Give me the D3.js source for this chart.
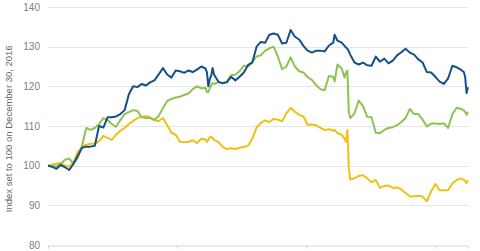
<!DOCTYPE html>
<html>
<head>
<meta charset="utf-8">
<script src="https://cdn.jsdelivr.net/npm/d3@7"></script>
<style>
  body { margin: 0; background: #fff; }
  svg { display: block; font-family: "Liberation Sans", Arial, sans-serif; }
</style>
</head>
<body>
<div class="chart"></div>
<script>
// days after Dec 30, 2016
var dayOffsets = [0, 3, 6, 9, 12, 15, 18, 21, 24, 27, 30, 33, 36, 39, 42, 45, 48, 51, 54, 57,
  60, 63, 66, 69, 72, 75, 78, 81, 84, 87, 90, 93, 96, 99, 102, 105, 108, 111, 112, 113,
  114, 115, 116, 117, 120, 123, 126, 129, 132, 135, 138, 141, 144, 147, 150, 153, 156, 159, 162, 165,
  168, 171, 174, 177, 180, 183, 186, 189, 192, 195, 198, 201, 202, 204, 207, 209, 210, 211, 212, 213,
  216, 219, 222, 225, 228, 231, 234, 237, 240, 243, 246, 249, 252, 255, 258, 261, 264, 267, 270, 273,
  276, 279, 282, 285, 288, 291, 293, 294, 295, 296];

var blueValues = [100, 99.7, 99.2, 100.2, 99.6, 98.9, 100.5, 102.5, 104.5, 104.8, 104.8, 105, 110, 109.6, 112.2, 112.2, 112.4, 113, 114, 118,
  120, 119.8, 120.6, 120.2, 121, 121.5, 123, 124.6, 123, 122.2, 124, 123.8, 123.4, 124, 123.6, 124.2, 125, 124.5, 123.5, 120,
  121.8, 122.7, 124.6, 123, 121.2, 120.8, 121, 122.4, 121.5, 122.4, 123.5, 125.4, 126, 130, 131.2, 131, 133, 133.3, 133, 130.8,
  131, 134.2, 132.5, 131.8, 130.2, 129, 128.5, 129, 129, 128.8, 130.3, 131, 133, 131.5, 131, 130.2, 129.8, 129.5, 128.8, 128,
  126, 125.5, 126, 125.3, 125.2, 127.5, 126.2, 127, 125.8, 126.5, 127.8, 128.6, 129.5, 128.5, 128, 126.8, 126, 123.6, 123.5, 122.4,
  121.2, 120.6, 122, 125.2, 124.8, 124.2, 123.6, 122.4, 118.3, 119.8];

var greenValues = [100, 100, 99.8, 100.5, 101.5, 101.8, 100.5, 102, 105, 109.5, 109, 109.5, 110.5, 112, 111.5, 110.5, 109.8, 111.5, 113, 113.5,
  114, 113.8, 112.2, 112, 112, 111.5, 112.5, 114.5, 116.3, 116.8, 117.2, 117.4, 117.8, 118.2, 119.3, 120, 119.5, 119.6, 118.6, 118.5,
  119.5, 120.3, 120.8, 120.6, 121, 120.8, 121.2, 122.8, 122.9, 123.8, 125.2, 125, 126.2, 127.5, 127.8, 129, 129.6, 130, 127.5, 124.3,
  125, 127.3, 125, 123.8, 123.5, 122.3, 121.6, 120.3, 119.3, 119, 122.6, 122.4, 121.2, 125.5, 124.5, 122.2, 123.5, 124, 113.5, 112,
  113.2, 116.4, 115, 112.3, 112.2, 108.3, 108.2, 109, 109.5, 109.7, 110.2, 111, 112, 114.3, 113, 113, 111.6, 109.9, 110.6, 110.6,
  110.5, 110.7, 109.5, 113, 114.6, 114.3, 114, 113.5, 112.8, 113.6];

var yellowValues = [100, 100.3, 100.5, 100.7, 100, 99.8, 100.8, 103.5, 104.8, 105.3, 105.5, 105.5, 106.2, 107.5, 107, 106.5, 107.8, 108.8, 109.5, 110.5,
  111.3, 112, 112.3, 112.5, 112.2, 111.5, 111.2, 112, 110.2, 108.3, 107.8, 106, 105.9, 106, 106.4, 105.7, 106.8, 106.6, 106, 106.5,
  107.2, 107.3, 107, 106.5, 106, 104.8, 104.2, 104.4, 104.2, 104.5, 104.7, 105, 106.8, 109.6, 110.8, 111.4, 111, 111.8, 111.6, 111.2,
  113.2, 114.6, 113.6, 112.8, 112.4, 110.3, 110.4, 110.2, 109.5, 109, 109.2, 108.8, 109, 108.2, 107.8, 106.8, 106, 109, 99.5, 96.5,
  96.8, 97.4, 97.6, 96.8, 95.8, 96.4, 94.4, 94.9, 95, 94.4, 94.5, 94, 93.1, 92.2, 92.3, 92.4, 92.2, 91, 93.5, 95.4,
  93.8, 93.8, 93.8, 95.5, 96.4, 96.8, 96.4, 96.2, 95.6, 96.3];

var yTicks = [80, 90, 100, 110, 120, 130, 140];
var quarterTicks = ["2016-12-30", "2017-03-31", "2017-06-30", "2017-09-29"];
var yTitle = "Index set to 100 on December 30, 2016";

var width = 480, height = 251;
var margin = {left: 48, right: 12, top: 7, bottom: 6};

var parse = d3.timeParse("%Y-%m-%d");
var start = parse("2016-12-30");
var dates = dayOffsets.map(function(d) { return d3.timeDay.offset(start, d); });

var x = d3.scaleTime()
  .domain([start, d3.timeDay.offset(start, 296)])
  .range([margin.left, width - margin.right]);
var y = d3.scaleLinear()
  .domain([80, 140])
  .range([height - margin.bottom, margin.top]);

var svg = d3.select(".chart").append("svg")
  .attr("width", width)
  .attr("height", height);

// grid lines
svg.append("g")
  .selectAll("line")
  .data(yTicks.slice(1))
  .enter().append("line")
  .attr("x1", margin.left)
  .attr("x2", width - margin.right)
  .attr("y1", function(d) { return Math.round(y(d)) + 0.5; })
  .attr("y2", function(d) { return Math.round(y(d)) + 0.5; })
  .attr("stroke", "#e6e6e6");

// y labels
svg.append("g")
  .selectAll("text")
  .data(yTicks)
  .enter().append("text")
  .attr("x", 40)
  .attr("y", function(d) { return y(d); })
  .attr("dy", "0.35em")
  .attr("text-anchor", "end")
  .attr("font-size", 10)
  .attr("fill", "#808080")
  .text(function(d) { return d; });

// bottom axis
var xAxis = d3.axisBottom(x)
  .tickValues(quarterTicks.map(parse))
  .tickSize(3)
  .tickFormat("");
var gx = svg.append("g")
  .attr("transform", "translate(0," + (Math.round(y(80)) + 0.5) + ")")
  .call(xAxis);
gx.select(".domain").attr("stroke", "#d9d9d9");
gx.selectAll(".tick line").attr("stroke", "#cfcfcf");

svg.append("text")
  .attr("transform", "translate(12," + y(109.3) + ") rotate(-90)")
  .attr("text-anchor", "middle")
  .attr("font-size", 9.5)
  .attr("fill", "#666")
  .text(yTitle);

var line = d3.line()
  .x(function(d, i) { return x(dates[i]); })
  .y(function(d) { return y(d); });

var series = [
  {values: yellowValues, color: "#f2c014"},
  {values: greenValues, color: "#8fc251"},
  {values: blueValues, color: "#16508a"}
];

svg.append("g")
  .selectAll("path")
  .data(series)
  .enter().append("path")
  .attr("d", function(s) { return line(s.values); })
  .attr("fill", "none")
  .attr("stroke", function(s) { return s.color; })
  .attr("stroke-width", 2)
  .attr("stroke-linejoin", "round");
</script>
</body>
</html>
